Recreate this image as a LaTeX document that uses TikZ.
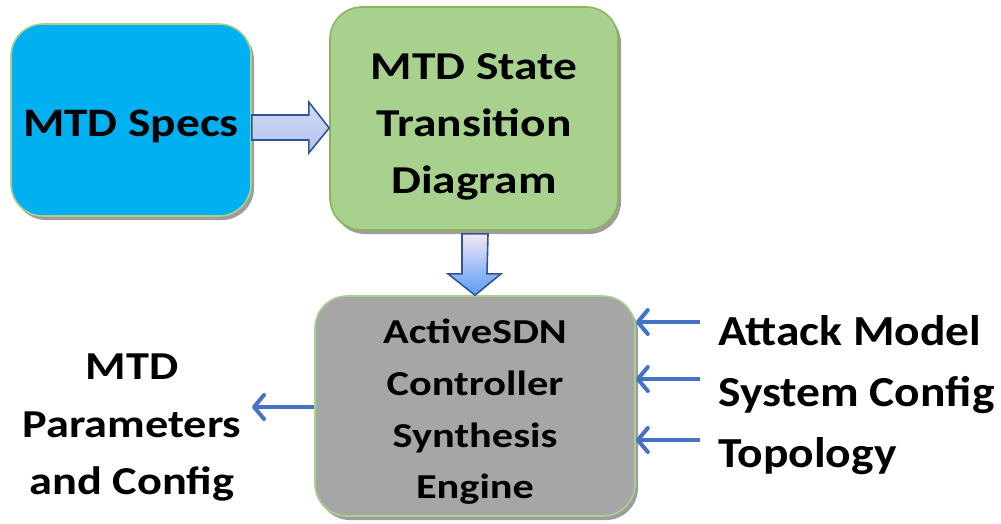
\documentclass[tikz,border=0pt]{standalone}
\usepackage{fontspec}
\setmainfont{Carlito}
\usetikzlibrary{arrows.meta,shadows,calc}
\definecolor{specblue}{HTML}{00B0F0}
\definecolor{stategreen}{HTML}{A9D18E}
\definecolor{stateedge}{HTML}{8DB45A}
\definecolor{palegreen}{HTML}{A9D18E}
\definecolor{enginegray}{HTML}{A6A6A6}
\definecolor{arrowblue}{HTML}{4472C4}
\definecolor{blockedge}{HTML}{2F5597}
\definecolor{downtop}{HTML}{F3E8F6}
\definecolor{downbottom}{HTML}{5B9BF5}
\definecolor{righttop}{HTML}{D3DAF5}
\definecolor{rightbottom}{HTML}{B3C2EE}
\tikzset{
  box/.style={rounded corners=32pt, line width=1.6pt, inner sep=0pt,
    drop shadow={shadow xshift=3pt, shadow yshift=-4pt, fill=black!55, opacity=0.7}},
  spectext/.style={inner sep=0pt, font=\fontsize{40.5}{57}\selectfont\bfseries\addfontfeatures{FakeStretch=1.17}},
  statetext/.style={inner sep=0pt, align=center, font=\fontsize{39.5}{57}\selectfont\bfseries\addfontfeatures{FakeStretch=1.2}},
  enginetext/.style={inner sep=0pt, align=center, font=\fontsize{35}{51.7}\selectfont\bfseries\addfontfeatures{FakeStretch=1.21}},
  lbltext/.style={inner sep=0pt, font=\fontsize{42.8}{61}\selectfont\bfseries\addfontfeatures{FakeStretch=1.11}},
  outtext/.style={inner sep=0pt, align=center, font=\fontsize{39.6}{57.5}\selectfont\bfseries\addfontfeatures{FakeStretch=1.17}},
  thinarrow/.style={draw=arrowblue, line width=4pt,
    -{Straight Barb[length=10pt, width=24pt, round]}},
  blockarrow/.style={draw=blockedge, line width=1.6pt, line join=miter},
}
\begin{document}
\begin{tikzpicture}[x=1pt, y=-1pt]
\useasboundingbox (0,0) rectangle (1001,523);
% boxes
\node[box, fill=specblue, draw=palegreen, minimum width=240pt, minimum height=192pt]
  (spec) at (131,120) {};
\node[box, fill=stategreen, draw=stateedge, minimum width=288pt, minimum height=223pt]
  (state) at (474,118.5) {};
\node[box, fill=enginegray, draw=palegreen, minimum width=320pt, minimum height=220pt]
  (engine) at (475,406) {};
% box texts
\node[spectext, anchor=base] (specT) at ($(spec.center)+(0,16.7)$) {MTD Specs};
\node[statetext] (stateT) at ($(state.center)+(0,8.5)$) {MTD State\\Transition\\Diagram};
\node[enginetext] (engineT) at ($(engine.center)+(0,6)$) {ActiveSDN\\Controller\\Synthesis\\Engine};
% block arrow right
\draw[blockarrow, top color=righttop, bottom color=rightbottom]
  ($(spec.east)+(0,-5)$) -- ++(57,0) -- ++(0,-13) -- ($(state.west)+(0,9.5)$)
  -- ($(spec.east)+(57,33)$) -- ++(0,-13) -- ($(spec.east)+(0,20)$) -- cycle;
% block arrow down
\draw[blockarrow, top color=downtop, bottom color=downbottom]
  ($(state.south)+(-12,3)$) -- ++(0,40) -- ++(-14,0) -- (engine.north)
  -- ($(state.south)+(27,43)$) -- ++(-14,0) -- ($(state.south)+(14,3)$) -- cycle;
% labels
\node[lbltext, anchor=base west] (att) at (718,345) {Attack Model};
\node[lbltext, anchor=base west] (sys) at (718,406) {System Config};
\node[lbltext, anchor=base west] (top) at (718,467) {Topology};
\node[outtext] (out) at (132,428) {MTD\\Parameters\\and Config};
% thin arrows
\coordinate (a1) at (700,322);
\coordinate (a2) at (700,379);
\coordinate (a3) at (700,440);
\draw[thinarrow] (a1) -- (a1 -| engine.east);
\draw[thinarrow] (a2) -- (a2 -| engine.east);
\draw[thinarrow] (a3) -- (a3 -| engine.east);
\coordinate (o1) at (252,407);
\draw[thinarrow] (o1 -| engine.west) -- (o1);
\end{tikzpicture}
\end{document}
